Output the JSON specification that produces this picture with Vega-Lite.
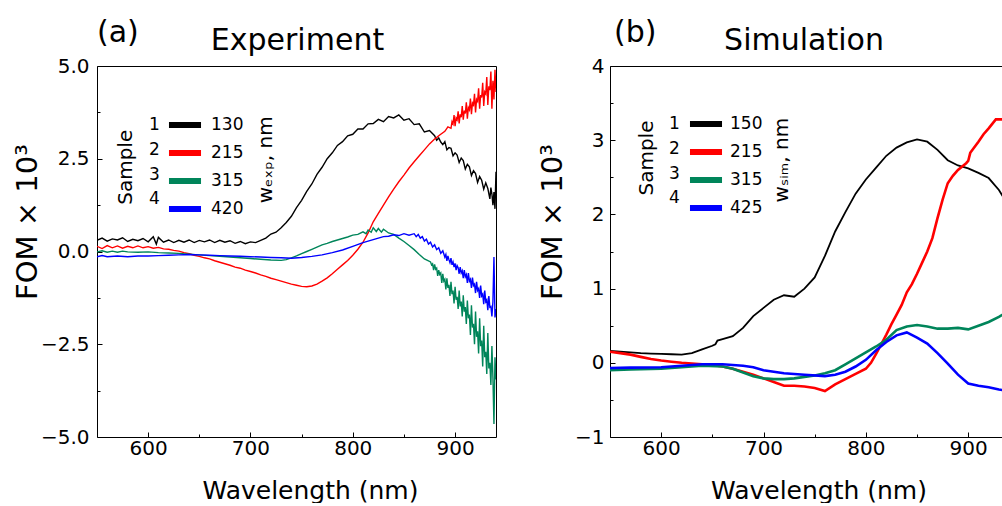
{
  "$schema": "https://vega.github.io/schema/vega-lite/v6.json",
  "padding": {"left": 13, "top": 18, "right": 0, "bottom": 0},
  "background": "white",
  "config": {
    "font": "DejaVu Sans",
    "view": {"stroke": null},
    "axis": {"labelFontSize": 20, "labelColor": "black", "tickColor": "black", "domainColor": "black", "domainWidth": 1, "tickWidth": 1, "titleFontSize": 25, "titleFontWeight": "normal", "titleColor": "black", "grid": false, "labelFont": "DejaVu Sans", "titleFont": "DejaVu Sans"},
    "legend": {"labelFont": "DejaVu Sans", "labelColor": "black"},
    "title": {"font": "DejaVu Sans", "fontWeight": "normal", "fontSize": 30, "color": "black"}
  },
  "datasets": {
    "exp": [
      {"s":"1","wl":550,"v":0.30},{"s":"1","wl":555,"v":0.36},{"s":"1","wl":560,"v":0.28},{"s":"1","wl":565,"v":0.34},{"s":"1","wl":570,"v":0.31},{"s":"1","wl":575,"v":0.37},{"s":"1","wl":580,"v":0.27},{"s":"1","wl":585,"v":0.33},{"s":"1","wl":590,"v":0.29},{"s":"1","wl":595,"v":0.35},{"s":"1","wl":600,"v":0.26},{"s":"1","wl":605,"v":0.40},{"s":"1","wl":608,"v":0.20},{"s":"1","wl":610,"v":0.38},{"s":"1","wl":615,"v":0.25},{"s":"1","wl":620,"v":0.31},{"s":"1","wl":625,"v":0.24},{"s":"1","wl":630,"v":0.30},{"s":"1","wl":635,"v":0.25},{"s":"1","wl":640,"v":0.31},{"s":"1","wl":645,"v":0.24},{"s":"1","wl":650,"v":0.30},{"s":"1","wl":655,"v":0.26},{"s":"1","wl":660,"v":0.31},{"s":"1","wl":665,"v":0.24},{"s":"1","wl":670,"v":0.30},{"s":"1","wl":675,"v":0.25},{"s":"1","wl":680,"v":0.29},{"s":"1","wl":685,"v":0.22},{"s":"1","wl":690,"v":0.27},{"s":"1","wl":695,"v":0.21},{"s":"1","wl":700,"v":0.26},{"s":"1","wl":705,"v":0.24},{"s":"1","wl":710,"v":0.30},{"s":"1","wl":715,"v":0.36},{"s":"1","wl":720,"v":0.47},{"s":"1","wl":725,"v":0.52},{"s":"1","wl":730,"v":0.64},{"s":"1","wl":735,"v":0.78},{"s":"1","wl":740,"v":0.95},{"s":"1","wl":745,"v":1.18},{"s":"1","wl":750,"v":1.38},{"s":"1","wl":755,"v":1.62},{"s":"1","wl":760,"v":1.82},{"s":"1","wl":765,"v":2.08},{"s":"1","wl":770,"v":2.27},{"s":"1","wl":775,"v":2.50},{"s":"1","wl":780,"v":2.66},{"s":"1","wl":785,"v":2.86},{"s":"1","wl":790,"v":2.96},{"s":"1","wl":795,"v":3.12},{"s":"1","wl":800,"v":3.16},{"s":"1","wl":805,"v":3.30},{"s":"1","wl":810,"v":3.30},{"s":"1","wl":815,"v":3.44},{"s":"1","wl":820,"v":3.45},{"s":"1","wl":825,"v":3.56},{"s":"1","wl":830,"v":3.50},{"s":"1","wl":835,"v":3.64},{"s":"1","wl":840,"v":3.60},{"s":"1","wl":845,"v":3.68},{"s":"1","wl":850,"v":3.54},{"s":"1","wl":855,"v":3.58},{"s":"1","wl":860,"v":3.42},{"s":"1","wl":865,"v":3.44},{"s":"1","wl":870,"v":3.22},{"s":"1","wl":875,"v":3.26},{"s":"1","wl":880,"v":3.12},{"s":"1","wl":882,"v":3.00},{"s":"1","wl":884,"v":3.06},{"s":"1","wl":886,"v":2.95},{"s":"1","wl":888,"v":2.88},{"s":"1","wl":890,"v":2.96},{"s":"1","wl":892,"v":2.74},{"s":"1","wl":894,"v":2.80},{"s":"1","wl":896,"v":2.78},{"s":"1","wl":898,"v":2.58},{"s":"1","wl":900,"v":2.66},{"s":"1","wl":902,"v":2.60},{"s":"1","wl":904,"v":2.40},{"s":"1","wl":906,"v":2.52},{"s":"1","wl":908,"v":2.45},{"s":"1","wl":910,"v":2.22},{"s":"1","wl":912,"v":2.35},{"s":"1","wl":914,"v":2.28},{"s":"1","wl":916,"v":2.05},{"s":"1","wl":918,"v":2.18},{"s":"1","wl":920,"v":2.10},{"s":"1","wl":922,"v":1.86},{"s":"1","wl":924,"v":2.02},{"s":"1","wl":926,"v":1.92},{"s":"1","wl":928,"v":1.68},{"s":"1","wl":930,"v":1.85},{"s":"1","wl":932,"v":1.70},{"s":"1","wl":934,"v":1.42},{"s":"1","wl":935,"v":1.72},{"s":"1","wl":936,"v":1.55},{"s":"1","wl":937,"v":1.25},{"s":"1","wl":938,"v":1.60},{"s":"1","wl":939,"v":1.15},{"s":"1","wl":940,"v":2.15},
      {"s":"2","wl":550,"v":0.14},{"s":"2","wl":555,"v":0.08},{"s":"2","wl":560,"v":0.16},{"s":"2","wl":565,"v":0.10},{"s":"2","wl":570,"v":0.15},{"s":"2","wl":575,"v":0.09},{"s":"2","wl":580,"v":0.14},{"s":"2","wl":585,"v":0.10},{"s":"2","wl":590,"v":0.15},{"s":"2","wl":595,"v":0.10},{"s":"2","wl":600,"v":0.13},{"s":"2","wl":605,"v":0.09},{"s":"2","wl":610,"v":0.11},{"s":"2","wl":615,"v":0.07},{"s":"2","wl":620,"v":0.06},{"s":"2","wl":625,"v":0.03},{"s":"2","wl":630,"v":0.01},{"s":"2","wl":635,"v":-0.03},{"s":"2","wl":640,"v":-0.06},{"s":"2","wl":645,"v":-0.10},{"s":"2","wl":650,"v":-0.13},{"s":"2","wl":655,"v":-0.17},{"s":"2","wl":660,"v":-0.20},{"s":"2","wl":665,"v":-0.25},{"s":"2","wl":670,"v":-0.29},{"s":"2","wl":675,"v":-0.33},{"s":"2","wl":680,"v":-0.37},{"s":"2","wl":685,"v":-0.42},{"s":"2","wl":690,"v":-0.45},{"s":"2","wl":695,"v":-0.50},{"s":"2","wl":700,"v":-0.54},{"s":"2","wl":705,"v":-0.58},{"s":"2","wl":710,"v":-0.63},{"s":"2","wl":715,"v":-0.67},{"s":"2","wl":720,"v":-0.72},{"s":"2","wl":725,"v":-0.76},{"s":"2","wl":730,"v":-0.80},{"s":"2","wl":735,"v":-0.84},{"s":"2","wl":740,"v":-0.88},{"s":"2","wl":745,"v":-0.91},{"s":"2","wl":750,"v":-0.94},{"s":"2","wl":755,"v":-0.95},{"s":"2","wl":760,"v":-0.93},{"s":"2","wl":765,"v":-0.88},{"s":"2","wl":770,"v":-0.80},{"s":"2","wl":775,"v":-0.71},{"s":"2","wl":780,"v":-0.60},{"s":"2","wl":785,"v":-0.48},{"s":"2","wl":790,"v":-0.36},{"s":"2","wl":795,"v":-0.24},{"s":"2","wl":800,"v":-0.10},{"s":"2","wl":805,"v":0.06},{"s":"2","wl":810,"v":0.25},{"s":"2","wl":815,"v":0.50},{"s":"2","wl":820,"v":0.80},{"s":"2","wl":825,"v":1.03},{"s":"2","wl":830,"v":1.25},{"s":"2","wl":835,"v":1.47},{"s":"2","wl":840,"v":1.68},{"s":"2","wl":845,"v":1.88},{"s":"2","wl":850,"v":2.06},{"s":"2","wl":855,"v":2.25},{"s":"2","wl":860,"v":2.42},{"s":"2","wl":865,"v":2.58},{"s":"2","wl":870,"v":2.74},{"s":"2","wl":875,"v":2.90},{"s":"2","wl":880,"v":3.03},{"s":"2","wl":885,"v":3.14},{"s":"2","wl":890,"v":3.24},{"s":"2","wl":893,"v":3.36},{"s":"2","wl":896,"v":3.32},{"s":"2","wl":897,"v":3.50},{"s":"2","wl":898,"v":3.44},{"s":"2","wl":899,"v":3.68},{"s":"2","wl":900,"v":3.38},{"s":"2","wl":901,"v":3.60},{"s":"2","wl":902,"v":3.55},{"s":"2","wl":903,"v":3.78},{"s":"2","wl":904,"v":3.45},{"s":"2","wl":905,"v":3.70},{"s":"2","wl":906,"v":3.62},{"s":"2","wl":907,"v":3.92},{"s":"2","wl":908,"v":3.55},{"s":"2","wl":909,"v":3.80},{"s":"2","wl":910,"v":3.72},{"s":"2","wl":911,"v":4.02},{"s":"2","wl":912,"v":3.58},{"s":"2","wl":913,"v":3.88},{"s":"2","wl":914,"v":3.82},{"s":"2","wl":915,"v":4.12},{"s":"2","wl":916,"v":3.70},{"s":"2","wl":917,"v":4.00},{"s":"2","wl":918,"v":3.95},{"s":"2","wl":919,"v":4.25},{"s":"2","wl":920,"v":3.75},{"s":"2","wl":921,"v":4.10},{"s":"2","wl":922,"v":4.05},{"s":"2","wl":923,"v":4.40},{"s":"2","wl":924,"v":3.85},{"s":"2","wl":925,"v":4.22},{"s":"2","wl":926,"v":4.15},{"s":"2","wl":927,"v":4.55},{"s":"2","wl":928,"v":3.92},{"s":"2","wl":929,"v":4.30},{"s":"2","wl":930,"v":4.25},{"s":"2","wl":931,"v":4.70},{"s":"2","wl":932,"v":3.95},{"s":"2","wl":933,"v":4.45},{"s":"2","wl":934,"v":4.35},{"s":"2","wl":935,"v":4.85},{"s":"2","wl":936,"v":3.85},{"s":"2","wl":937,"v":4.60},{"s":"2","wl":938,"v":4.10},{"s":"2","wl":939,"v":4.90},{"s":"2","wl":940,"v":4.30},
      {"s":"3","wl":550,"v":-0.01},{"s":"3","wl":555,"v":0.02},{"s":"3","wl":560,"v":-0.02},{"s":"3","wl":565,"v":0.01},{"s":"3","wl":570,"v":-0.02},{"s":"3","wl":575,"v":0.01},{"s":"3","wl":580,"v":-0.01},{"s":"3","wl":590,"v":-0.02},{"s":"3","wl":600,"v":-0.01},{"s":"3","wl":610,"v":-0.03},{"s":"3","wl":620,"v":-0.04},{"s":"3","wl":630,"v":-0.05},{"s":"3","wl":640,"v":-0.07},{"s":"3","wl":650,"v":-0.09},{"s":"3","wl":660,"v":-0.11},{"s":"3","wl":670,"v":-0.13},{"s":"3","wl":680,"v":-0.15},{"s":"3","wl":690,"v":-0.17},{"s":"3","wl":700,"v":-0.19},{"s":"3","wl":710,"v":-0.21},{"s":"3","wl":720,"v":-0.23},{"s":"3","wl":730,"v":-0.24},{"s":"3","wl":735,"v":-0.22},{"s":"3","wl":740,"v":-0.17},{"s":"3","wl":745,"v":-0.12},{"s":"3","wl":750,"v":-0.06},{"s":"3","wl":755,"v":0.00},{"s":"3","wl":760,"v":0.06},{"s":"3","wl":765,"v":0.12},{"s":"3","wl":770,"v":0.18},{"s":"3","wl":775,"v":0.22},{"s":"3","wl":780,"v":0.27},{"s":"3","wl":785,"v":0.31},{"s":"3","wl":790,"v":0.35},{"s":"3","wl":795,"v":0.39},{"s":"3","wl":800,"v":0.44},{"s":"3","wl":805,"v":0.46},{"s":"3","wl":810,"v":0.53},{"s":"3","wl":813,"v":0.48},{"s":"3","wl":815,"v":0.58},{"s":"3","wl":818,"v":0.52},{"s":"3","wl":820,"v":0.64},{"s":"3","wl":823,"v":0.54},{"s":"3","wl":825,"v":0.62},{"s":"3","wl":828,"v":0.52},{"s":"3","wl":830,"v":0.60},{"s":"3","wl":835,"v":0.50},{"s":"3","wl":840,"v":0.46},{"s":"3","wl":845,"v":0.36},{"s":"3","wl":850,"v":0.27},{"s":"3","wl":855,"v":0.16},{"s":"3","wl":860,"v":0.05},{"s":"3","wl":865,"v":-0.08},{"s":"3","wl":870,"v":-0.20},{"s":"3","wl":873,"v":-0.24},{"s":"3","wl":876,"v":-0.28},{"s":"3","wl":877,"v":-0.36},{"s":"3","wl":878,"v":-0.33},{"s":"3","wl":879,"v":-0.50},{"s":"3","wl":880,"v":-0.35},{"s":"3","wl":881,"v":-0.48},{"s":"3","wl":882,"v":-0.45},{"s":"3","wl":883,"v":-0.66},{"s":"3","wl":884,"v":-0.50},{"s":"3","wl":885,"v":-0.62},{"s":"3","wl":886,"v":-0.58},{"s":"3","wl":887,"v":-0.85},{"s":"3","wl":888,"v":-0.60},{"s":"3","wl":889,"v":-0.80},{"s":"3","wl":890,"v":-0.75},{"s":"3","wl":891,"v":-1.02},{"s":"3","wl":892,"v":-0.72},{"s":"3","wl":893,"v":-0.98},{"s":"3","wl":894,"v":-0.90},{"s":"3","wl":895,"v":-1.20},{"s":"3","wl":896,"v":-0.82},{"s":"3","wl":897,"v":-1.15},{"s":"3","wl":898,"v":-1.05},{"s":"3","wl":899,"v":-1.40},{"s":"3","wl":900,"v":-0.95},{"s":"3","wl":901,"v":-1.30},{"s":"3","wl":902,"v":-1.22},{"s":"3","wl":903,"v":-1.55},{"s":"3","wl":904,"v":-1.05},{"s":"3","wl":905,"v":-1.48},{"s":"3","wl":906,"v":-1.35},{"s":"3","wl":907,"v":-1.75},{"s":"3","wl":908,"v":-1.18},{"s":"3","wl":909,"v":-1.62},{"s":"3","wl":910,"v":-1.50},{"s":"3","wl":911,"v":-1.95},{"s":"3","wl":912,"v":-1.32},{"s":"3","wl":913,"v":-1.80},{"s":"3","wl":914,"v":-1.70},{"s":"3","wl":915,"v":-2.25},{"s":"3","wl":916,"v":-1.45},{"s":"3","wl":917,"v":-2.05},{"s":"3","wl":918,"v":-1.95},{"s":"3","wl":919,"v":-2.50},{"s":"3","wl":920,"v":-1.62},{"s":"3","wl":921,"v":-2.30},{"s":"3","wl":922,"v":-2.15},{"s":"3","wl":923,"v":-2.75},{"s":"3","wl":924,"v":-1.80},{"s":"3","wl":925,"v":-2.55},{"s":"3","wl":926,"v":-2.40},{"s":"3","wl":927,"v":-3.10},{"s":"3","wl":928,"v":-2.00},{"s":"3","wl":929,"v":-2.85},{"s":"3","wl":930,"v":-2.70},{"s":"3","wl":931,"v":-3.30},{"s":"3","wl":932,"v":-2.20},{"s":"3","wl":933,"v":-3.15},{"s":"3","wl":934,"v":-3.00},{"s":"3","wl":935,"v":-3.60},{"s":"3","wl":936,"v":-2.55},{"s":"3","wl":937,"v":-3.40},{"s":"3","wl":938,"v":-4.65},{"s":"3","wl":939,"v":-2.85},{"s":"3","wl":940,"v":-3.45},
      {"s":"4","wl":550,"v":-0.14},{"s":"4","wl":555,"v":-0.11},{"s":"4","wl":560,"v":-0.14},{"s":"4","wl":570,"v":-0.12},{"s":"4","wl":580,"v":-0.14},{"s":"4","wl":590,"v":-0.12},{"s":"4","wl":600,"v":-0.12},{"s":"4","wl":610,"v":-0.11},{"s":"4","wl":620,"v":-0.10},{"s":"4","wl":630,"v":-0.09},{"s":"4","wl":640,"v":-0.08},{"s":"4","wl":650,"v":-0.09},{"s":"4","wl":660,"v":-0.10},{"s":"4","wl":670,"v":-0.11},{"s":"4","wl":680,"v":-0.12},{"s":"4","wl":690,"v":-0.13},{"s":"4","wl":700,"v":-0.14},{"s":"4","wl":710,"v":-0.15},{"s":"4","wl":720,"v":-0.16},{"s":"4","wl":730,"v":-0.17},{"s":"4","wl":740,"v":-0.18},{"s":"4","wl":750,"v":-0.16},{"s":"4","wl":760,"v":-0.13},{"s":"4","wl":770,"v":-0.09},{"s":"4","wl":780,"v":-0.03},{"s":"4","wl":790,"v":0.04},{"s":"4","wl":800,"v":0.14},{"s":"4","wl":810,"v":0.24},{"s":"4","wl":820,"v":0.32},{"s":"4","wl":825,"v":0.36},{"s":"4","wl":830,"v":0.40},{"s":"4","wl":835,"v":0.41},{"s":"4","wl":840,"v":0.45},{"s":"4","wl":845,"v":0.43},{"s":"4","wl":850,"v":0.48},{"s":"4","wl":855,"v":0.44},{"s":"4","wl":860,"v":0.48},{"s":"4","wl":862,"v":0.40},{"s":"4","wl":864,"v":0.46},{"s":"4","wl":866,"v":0.36},{"s":"4","wl":868,"v":0.40},{"s":"4","wl":870,"v":0.28},{"s":"4","wl":872,"v":0.33},{"s":"4","wl":874,"v":0.20},{"s":"4","wl":876,"v":0.25},{"s":"4","wl":878,"v":0.12},{"s":"4","wl":880,"v":0.18},{"s":"4","wl":882,"v":0.05},{"s":"4","wl":884,"v":0.10},{"s":"4","wl":886,"v":-0.05},{"s":"4","wl":888,"v":0.02},{"s":"4","wl":890,"v":-0.15},{"s":"4","wl":891,"v":-0.08},{"s":"4","wl":892,"v":-0.25},{"s":"4","wl":893,"v":-0.12},{"s":"4","wl":894,"v":-0.22},{"s":"4","wl":895,"v":-0.30},{"s":"4","wl":896,"v":-0.18},{"s":"4","wl":897,"v":-0.36},{"s":"4","wl":898,"v":-0.28},{"s":"4","wl":899,"v":-0.42},{"s":"4","wl":900,"v":-0.32},{"s":"4","wl":901,"v":-0.50},{"s":"4","wl":902,"v":-0.38},{"s":"4","wl":903,"v":-0.44},{"s":"4","wl":904,"v":-0.60},{"s":"4","wl":905,"v":-0.42},{"s":"4","wl":906,"v":-0.58},{"s":"4","wl":907,"v":-0.52},{"s":"4","wl":908,"v":-0.72},{"s":"4","wl":909,"v":-0.50},{"s":"4","wl":910,"v":-0.68},{"s":"4","wl":911,"v":-0.62},{"s":"4","wl":912,"v":-0.85},{"s":"4","wl":913,"v":-0.58},{"s":"4","wl":914,"v":-0.80},{"s":"4","wl":915,"v":-0.75},{"s":"4","wl":916,"v":-0.98},{"s":"4","wl":917,"v":-0.70},{"s":"4","wl":918,"v":-0.92},{"s":"4","wl":919,"v":-0.88},{"s":"4","wl":920,"v":-1.12},{"s":"4","wl":921,"v":-0.82},{"s":"4","wl":922,"v":-1.05},{"s":"4","wl":923,"v":-1.00},{"s":"4","wl":924,"v":-1.25},{"s":"4","wl":925,"v":-0.92},{"s":"4","wl":926,"v":-1.20},{"s":"4","wl":927,"v":-1.15},{"s":"4","wl":928,"v":-1.42},{"s":"4","wl":929,"v":-1.05},{"s":"4","wl":930,"v":-1.35},{"s":"4","wl":931,"v":-1.30},{"s":"4","wl":932,"v":-1.58},{"s":"4","wl":933,"v":-1.20},{"s":"4","wl":934,"v":-1.50},{"s":"4","wl":935,"v":-1.48},{"s":"4","wl":936,"v":-1.75},{"s":"4","wl":937,"v":-1.35},{"s":"4","wl":938,"v":-0.15},{"s":"4","wl":939,"v":-1.78},{"s":"4","wl":940,"v":-1.55}
    ],
    "sim": [
      {"s":"1","wl":550,"v":0.16},{"s":"1","wl":560,"v":0.15},{"s":"1","wl":570,"v":0.14},{"s":"1","wl":580,"v":0.13},{"s":"1","wl":590,"v":0.125},{"s":"1","wl":600,"v":0.12},{"s":"1","wl":610,"v":0.115},{"s":"1","wl":620,"v":0.11},{"s":"1","wl":630,"v":0.13},{"s":"1","wl":640,"v":0.18},{"s":"1","wl":650,"v":0.23},{"s":"1","wl":653,"v":0.25},{"s":"1","wl":655,"v":0.30},{"s":"1","wl":660,"v":0.32},{"s":"1","wl":670,"v":0.36},{"s":"1","wl":680,"v":0.47},{"s":"1","wl":690,"v":0.63},{"s":"1","wl":700,"v":0.74},{"s":"1","wl":710,"v":0.85},{"s":"1","wl":720,"v":0.91},{"s":"1","wl":730,"v":0.89},{"s":"1","wl":740,"v":1.0},{"s":"1","wl":750,"v":1.15},{"s":"1","wl":760,"v":1.44},{"s":"1","wl":770,"v":1.77},{"s":"1","wl":780,"v":2.03},{"s":"1","wl":790,"v":2.28},{"s":"1","wl":800,"v":2.47},{"s":"1","wl":810,"v":2.63},{"s":"1","wl":820,"v":2.79},{"s":"1","wl":830,"v":2.9},{"s":"1","wl":840,"v":2.97},{"s":"1","wl":850,"v":3.01},{"s":"1","wl":860,"v":2.98},{"s":"1","wl":870,"v":2.87},{"s":"1","wl":880,"v":2.73},{"s":"1","wl":890,"v":2.66},{"s":"1","wl":900,"v":2.62},{"s":"1","wl":910,"v":2.56},{"s":"1","wl":920,"v":2.49},{"s":"1","wl":930,"v":2.33},{"s":"1","wl":940,"v":2.1},
      {"s":"2","wl":550,"v":0.15},{"s":"2","wl":560,"v":0.13},{"s":"2","wl":570,"v":0.11},{"s":"2","wl":580,"v":0.08},{"s":"2","wl":590,"v":0.05},{"s":"2","wl":600,"v":0.03},{"s":"2","wl":610,"v":0.015},{"s":"2","wl":620,"v":0.0},{"s":"2","wl":630,"v":-0.01},{"s":"2","wl":640,"v":-0.02},{"s":"2","wl":650,"v":-0.03},{"s":"2","wl":660,"v":-0.05},{"s":"2","wl":670,"v":-0.08},{"s":"2","wl":680,"v":-0.12},{"s":"2","wl":690,"v":-0.16},{"s":"2","wl":700,"v":-0.21},{"s":"2","wl":710,"v":-0.26},{"s":"2","wl":720,"v":-0.31},{"s":"2","wl":730,"v":-0.31},{"s":"2","wl":740,"v":-0.32},{"s":"2","wl":750,"v":-0.34},{"s":"2","wl":760,"v":-0.38},{"s":"2","wl":770,"v":-0.29},{"s":"2","wl":780,"v":-0.22},{"s":"2","wl":790,"v":-0.15},{"s":"2","wl":800,"v":-0.08},{"s":"2","wl":805,"v":0.0},{"s":"2","wl":810,"v":0.12},{"s":"2","wl":815,"v":0.25},{"s":"2","wl":820,"v":0.38},{"s":"2","wl":825,"v":0.52},{"s":"2","wl":830,"v":0.65},{"s":"2","wl":835,"v":0.78},{"s":"2","wl":840,"v":0.95},{"s":"2","wl":845,"v":1.06},{"s":"2","wl":850,"v":1.2},{"s":"2","wl":855,"v":1.35},{"s":"2","wl":860,"v":1.5},{"s":"2","wl":865,"v":1.68},{"s":"2","wl":870,"v":1.95},{"s":"2","wl":875,"v":2.2},{"s":"2","wl":880,"v":2.42},{"s":"2","wl":885,"v":2.52},{"s":"2","wl":890,"v":2.6},{"s":"2","wl":898,"v":2.69},{"s":"2","wl":900,"v":2.72},{"s":"2","wl":902,"v":2.83},{"s":"2","wl":910,"v":2.98},{"s":"2","wl":915,"v":3.08},{"s":"2","wl":920,"v":3.16},{"s":"2","wl":927,"v":3.28},{"s":"2","wl":935,"v":3.28},{"s":"2","wl":940,"v":3.24},
      {"s":"3","wl":550,"v":-0.1},{"s":"3","wl":570,"v":-0.09},{"s":"3","wl":600,"v":-0.08},{"s":"3","wl":620,"v":-0.06},{"s":"3","wl":640,"v":-0.04},{"s":"3","wl":660,"v":-0.05},{"s":"3","wl":670,"v":-0.08},{"s":"3","wl":680,"v":-0.13},{"s":"3","wl":690,"v":-0.18},{"s":"3","wl":700,"v":-0.21},{"s":"3","wl":710,"v":-0.22},{"s":"3","wl":720,"v":-0.22},{"s":"3","wl":730,"v":-0.21},{"s":"3","wl":740,"v":-0.19},{"s":"3","wl":750,"v":-0.17},{"s":"3","wl":760,"v":-0.14},{"s":"3","wl":770,"v":-0.1},{"s":"3","wl":780,"v":-0.02},{"s":"3","wl":790,"v":0.06},{"s":"3","wl":800,"v":0.14},{"s":"3","wl":810,"v":0.22},{"s":"3","wl":820,"v":0.31},{"s":"3","wl":830,"v":0.44},{"s":"3","wl":840,"v":0.49},{"s":"3","wl":850,"v":0.51},{"s":"3","wl":860,"v":0.49},{"s":"3","wl":870,"v":0.46},{"s":"3","wl":880,"v":0.46},{"s":"3","wl":890,"v":0.47},{"s":"3","wl":900,"v":0.45},{"s":"3","wl":910,"v":0.5},{"s":"3","wl":920,"v":0.55},{"s":"3","wl":930,"v":0.62},{"s":"3","wl":940,"v":0.7},
      {"s":"4","wl":550,"v":-0.07},{"s":"4","wl":570,"v":-0.065},{"s":"4","wl":600,"v":-0.06},{"s":"4","wl":620,"v":-0.04},{"s":"4","wl":640,"v":-0.02},{"s":"4","wl":660,"v":-0.02},{"s":"4","wl":680,"v":-0.04},{"s":"4","wl":690,"v":-0.06},{"s":"4","wl":700,"v":-0.1},{"s":"4","wl":710,"v":-0.12},{"s":"4","wl":720,"v":-0.14},{"s":"4","wl":740,"v":-0.16},{"s":"4","wl":760,"v":-0.18},{"s":"4","wl":770,"v":-0.16},{"s":"4","wl":780,"v":-0.12},{"s":"4","wl":790,"v":-0.05},{"s":"4","wl":800,"v":0.04},{"s":"4","wl":810,"v":0.17},{"s":"4","wl":820,"v":0.28},{"s":"4","wl":830,"v":0.37},{"s":"4","wl":840,"v":0.41},{"s":"4","wl":850,"v":0.34},{"s":"4","wl":860,"v":0.26},{"s":"4","wl":870,"v":0.13},{"s":"4","wl":880,"v":-0.01},{"s":"4","wl":890,"v":-0.16},{"s":"4","wl":900,"v":-0.28},{"s":"4","wl":910,"v":-0.31},{"s":"4","wl":920,"v":-0.33},{"s":"4","wl":930,"v":-0.36},{"s":"4","wl":940,"v":-0.38}
    ],
    "leg": [{"s":"1"},{"s":"2"},{"s":"3"},{"s":"4"}]
  },
  "resolve": {"scale": {"color": "independent", "shape": "independent"}, "legend": {"color": "independent", "shape": "independent"}},
  "spacing": 42,
  "hconcat": [
    {
      "width": 399,
      "height": 371,
      "title": {"text": "(a)", "anchor": "start", "frame": "group", "offset": -23},
      "resolve": {"axis": {"x": "independent", "y": "independent"}},
      "layer": [
        {
          "data": {"name": "exp"},
          "mark": {"type": "line", "strokeWidth": 1.4, "clip": true},
          "encoding": {
            "x": {"field": "wl", "type": "quantitative", "scale": {"domain": [550, 940], "nice": false, "zero": false},
                  "axis": {"orient": "bottom", "values": [600, 700, 800, 900], "tickSize": -5, "labelPadding": 6, "title": "Wavelength (nm)", "titlePadding": 20, "titleX": 213}},
            "y": {"field": "v", "type": "quantitative", "scale": {"domain": [-5, 5], "nice": false, "zero": false},
                  "axis": {"orient": "left", "values": [-5, -2.5, 0, 2.5, 5], "format": ".1f", "tickSize": -5, "labelPadding": 13, "title": "FOM × 10³", "titleFontSize": 29, "titlePadding": -2, "titleY": 155.5}},
            "color": {"field": "s", "type": "nominal", "scale": {"domain": ["1", "2", "3", "4"], "range": ["#000000", "#ff0000", "#00855a", "#0000ff"]},
                      "legend": {"orient": "none", "legendX": 76, "legendY": 47, "title": null, "symbolType": "M-1.78,0L1.78,0", "symbolSize": 324, "symbolStrokeWidth": 6, "labelFontSize": 17, "labelOffset": 14, "rowPadding": 4,
                                 "labelExpr": "{'1':'130','2':'215','3':'315','4':'420'}[datum.label]"}}
          }
        },
        {
          "mark": {"type": "rule", "color": "#ff7f0e", "strokeWidth": 2.5, "strokeDash": [7.5, 4.5]},
          "encoding": {
            "y": {"datum": 0, "type": "quantitative", "scale": {"domain": [-5, 5], "nice": false, "zero": false},
                  "axis": {"orient": "left", "values": [-3.75, -1.25, 1.25, 3.75], "tickSize": -3, "labels": false, "domain": false, "title": null}}
          }
        },
        {
          "data": {"values": [{}]},
          "mark": {"type": "text", "text": "Sample", "angle": 270, "align": "center", "baseline": "middle", "fontSize": 20, "color": "black"},
          "encoding": {
            "x": {"datum": 578.6, "type": "quantitative", "axis": {"orient": "bottom", "values": [650, 750, 850], "tickSize": -3, "labels": false, "domain": false, "title": null}},
            "y": {"datum": 2.27, "type": "quantitative", "axis": {"orient": "right", "domain": true, "ticks": false, "labels": false, "title": null}}
          }
        },
        {
          "data": {"values": [{}]},
          "mark": {"type": "text", "text": "wₑₓₚ, nm", "angle": 270, "align": "center", "baseline": "middle", "fontSize": 20, "color": "black"},
          "encoding": {
            "x": {"datum": 715, "type": "quantitative", "axis": {"orient": "top", "domain": true, "ticks": false, "labels": false, "title": "Experiment", "titleFontSize": 30, "titlePadding": 11, "titleX": 200}},
            "y": {"datum": 2.47, "type": "quantitative", "axis": null}
          }
        },
        {
          "data": {"name": "leg"},
          "mark": {"type": "point", "opacity": 0},
          "encoding": {
            "shape": {"field": "s", "type": "nominal",
                      "legend": {"orient": "none", "legendX": 24, "legendY": 47, "title": null, "symbolSize": 324, "symbolStrokeWidth": 6, "symbolOpacity": 0, "labelFontSize": 17, "labelOffset": 4, "rowPadding": 4}}
          }
        }
      ]
    },
    {
      "width": 393,
      "height": 371,
      "title": {"text": "(b)", "anchor": "start", "frame": "group", "offset": -23, "dx": 4},
      "resolve": {"axis": {"x": "independent", "y": "independent"}},
      "layer": [
        {
          "data": {"name": "sim"},
          "transform": [{"filter": "datum.s === '1'"}],
          "mark": {"type": "line", "clip": true, "strokeWidth": 1.8},
          "encoding": {
            "x": {"field": "wl", "type": "quantitative", "scale": {"domain": [550, 934], "nice": false, "zero": false},
                  "axis": {"orient": "bottom", "values": [600, 700, 800, 900], "tickSize": -5, "labelPadding": 6, "title": "Wavelength (nm)", "titlePadding": 20, "titleX": 208.5}},
            "y": {"field": "v", "type": "quantitative", "scale": {"domain": [-1, 4], "nice": false, "zero": false},
                  "axis": {"orient": "left", "values": [-1, 0, 1, 2, 3, 4], "format": "d", "tickSize": -5, "labelPadding": 11, "title": "FOM × 10³", "titleFontSize": 29, "titlePadding": 7, "titleY": 155.5}},
            "color": {"field": "s", "type": "nominal", "scale": {"domain": ["1", "2", "3", "4"], "range": ["#000000", "#ff0000", "#00855a", "#0000ff"]},
                      "legend": {"orient": "none", "legendX": 84, "legendY": 46, "title": null, "symbolType": "M-1.78,0L1.78,0", "symbolSize": 324, "symbolStrokeWidth": 6, "labelFontSize": 17, "labelOffset": 12, "rowPadding": 4,
                                 "labelExpr": "{'1':'150','2':'215','3':'315','4':'425'}[datum.label]"}}
          }
        },
        {
          "data": {"name": "sim"},
          "transform": [{"filter": "datum.s !== '1'"}],
          "mark": {"type": "line", "clip": true, "strokeWidth": 2.6},
          "encoding": {
            "x": {"field": "wl", "type": "quantitative", "scale": {"domain": [550, 934], "nice": false, "zero": false}, "axis": null},
            "y": {"field": "v", "type": "quantitative", "scale": {"domain": [-1, 4], "nice": false, "zero": false}, "axis": null},
            "color": {"field": "s", "type": "nominal", "scale": {"domain": ["1", "2", "3", "4"], "range": ["#000000", "#ff0000", "#00855a", "#0000ff"]},
                      "legend": {"orient": "none", "legendX": 84, "legendY": 46, "title": null, "symbolType": "M-1.78,0L1.78,0", "symbolSize": 324, "symbolStrokeWidth": 6, "labelFontSize": 17, "labelOffset": 12, "rowPadding": 4,
                                 "labelExpr": "{'1':'150','2':'215','3':'315','4':'425'}[datum.label]"}}
          }
        },
        {
          "mark": {"type": "rule", "color": "#ff7f0e", "strokeWidth": 2.5, "strokeDash": [7.5, 4.5]},
          "encoding": {
            "y": {"datum": 0, "type": "quantitative", "scale": {"domain": [-1, 4], "nice": false, "zero": false},
                  "axis": {"orient": "left", "values": [-0.5, 0.5, 1.5, 2.5, 3.5], "tickSize": -3, "labels": false, "domain": false, "title": null}}
          }
        },
        {
          "data": {"values": [{}]},
          "mark": {"type": "text", "text": "Sample", "angle": 270, "align": "center", "baseline": "middle", "fontSize": 20, "color": "black"},
          "encoding": {
            "x": {"datum": 585.9, "type": "quantitative", "axis": {"orient": "bottom", "values": [650, 750, 850], "tickSize": -3, "labels": false, "domain": false, "title": null}},
            "y": {"datum": 2.76, "type": "quantitative", "axis": null}
          }
        },
        {
          "data": {"values": [{}]},
          "mark": {"type": "text", "text": "wₛᵢₘ, nm", "angle": 270, "align": "center", "baseline": "middle", "fontSize": 20, "color": "black"},
          "encoding": {
            "x": {"datum": 718, "type": "quantitative", "axis": {"orient": "top", "domain": true, "ticks": false, "labels": false, "title": "Simulation", "titleFontSize": 30, "titlePadding": 11, "titleX": 193.5}},
            "y": {"datum": 2.73, "type": "quantitative", "axis": null}
          }
        },
        {
          "data": {"name": "leg"},
          "mark": {"type": "point", "opacity": 0},
          "encoding": {
            "shape": {"field": "s", "type": "nominal",
                      "legend": {"orient": "none", "legendX": 31, "legendY": 46, "title": null, "symbolSize": 324, "symbolStrokeWidth": 6, "symbolOpacity": 0, "labelFontSize": 17, "labelOffset": 4, "rowPadding": 4}}
          }
        }
      ]
    }
  ]
}
